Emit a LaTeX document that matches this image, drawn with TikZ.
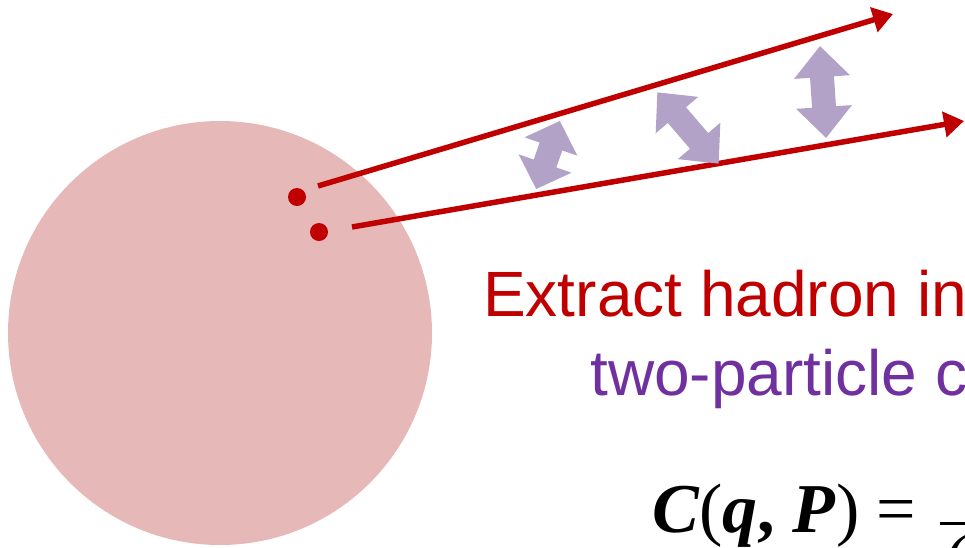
\documentclass[tikz,border=0pt]{standalone}
\usepackage{fontspec}
\setmainfont{Liberation Sans}
\newfontfamily\eqfont{Liberation Serif}
\usetikzlibrary{arrows.meta}
\definecolor{hred}{HTML}{C00000}
\definecolor{hpink}{HTML}{E6B8B7}
\definecolor{hpurple}{HTML}{7030A0}
\definecolor{harrow}{HTML}{B3A2C7}
\tikzset{
  dot/.style={circle, fill=hred, minimum size=18pt, inner sep=0pt},
  track/.style={draw=hred, line width=5.5pt, -{Triangle[length=20pt,width=25pt]}},
  corr/.style={fill=harrow},
  bigtext/.style={anchor=base west, inner sep=0pt, font=\fontsize{64}{77}\selectfont},
}
% center x, center y, angle, half length, head length
\newcommand\purplearrow[5]{%
  \fill[corr, shift={(#1,#2)}, rotate=#3]
    (-#4,0) -- (-#4+#5,28) -- (-#4+#5,12) -- (#4-#5,12) -- (#4-#5,28) -- (#4,0)
    -- (#4-#5,-28) -- (#4-#5,-12) -- (-#4+#5,-12) -- (-#4+#5,-28) -- cycle;}
\begin{document}
\begin{tikzpicture}[x=1pt,y=-1pt]
\useasboundingbox (0,0) rectangle (965,547);
\clip (0,0) rectangle (965,547);
\fill[hpink] (220,333) circle[radius=212pt];
\node[dot] (d1) at (297,197) {};
\node[dot] (d2) at (319,232) {};
\coordinate (s1) at (318,186);
\coordinate (e1) at (893,14);
\coordinate (s2) at (352,227);
\coordinate (e2) at (964,121);
\draw[track] (s1) -- (e1);
\draw[track] (s2) -- (e2);
\purplearrow{548}{155}{70.8}{36}{27}
\purplearrow{688}{128}{-49.3}{47}{30}
\purplearrow{823}{92}{-86.2}{46}{31}
\node[bigtext, text=hred] (t1) at (483,316) {Extract hadron in};
\node[bigtext, text=hpurple] (t2) at (590,395) {two-particle c};
\node[anchor=base west, inner sep=0pt, font=\eqfont\fontsize{70}{84}\selectfont] (eq) at (652,532)
  {\textbf{\textit{C}}(\textbf{\textit{q}}\textbf{,} \textbf{\textit{P}}) =};
\draw[line width=3pt] (940,523) -- (966,523);
\node[anchor=base west, inner sep=0pt, font=\eqfont\fontsize{70}{84}\selectfont] (par) at (945,583) {(};
\end{tikzpicture}
\end{document}
